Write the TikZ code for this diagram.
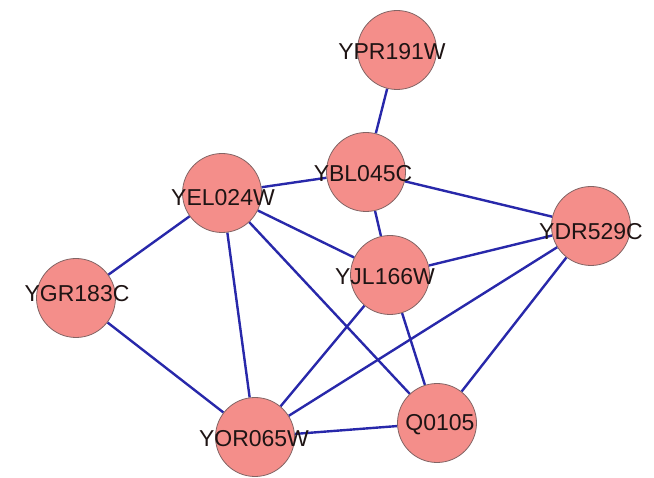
\documentclass[tikz,border=0pt]{standalone}
\usepackage{fontspec}
\setmainfont{Liberation Sans}
\usetikzlibrary{backgrounds}
\definecolor{nodefill}{RGB}{244,142,138}
\definecolor{nodeborder}{RGB}{130,100,100}
\definecolor{edgeblue}{RGB}{40,40,170}
\definecolor{txt}{RGB}{30,20,20}
\tikzset{
  vert/.style={circle, fill=nodefill, draw=nodeborder, line width=0.8pt, minimum size=79pt, inner sep=0pt},
  lbl/.style={text=txt, font=\fontsize{23}{27}\selectfont, inner sep=0pt},
  edge/.style={draw=edgeblue, line width=2.4pt}
}
\begin{document}
\begin{tikzpicture}[x=1pt,y=-1pt]
\useasboundingbox (0,0) rectangle (654,478);
\node[vert] (ypr) at (397,50) {};
\node[lbl] at (392,52) {YPR191W};
\node[vert] (ybl) at (366,172) {};
\node[lbl] at (363,174) {YBL045C};
\node[vert] (yel) at (222,193) {};
\node[lbl] at (223,198) {YEL024W};
\node[vert] (ydr) at (591,226) {};
\node[lbl] at (591,232) {YDR529C};
\node[vert] (yjl) at (390,275) {};
\node[lbl] at (385,277) {YJL166W};
\node[vert] (ygr) at (76,298) {};
\node[lbl] at (77,294) {YGR183C};
\node[vert] (yor) at (255,437) {};
\node[lbl] at (254,439) {YOR065W};
\node[vert] (q) at (437,423) {};
\node[lbl] at (440,425) {Q0105};
\begin{scope}[on background layer]
\draw[edge] (ypr) -- (ybl);
\draw[edge] (yel) -- (ybl);
\draw[edge] (ybl) -- (ydr);
\draw[edge] (ybl) -- (yjl);
\draw[edge] (yel) -- (ygr);
\draw[edge] (yel) -- (yjl);
\draw[edge] (yel) -- (yor);
\draw[edge] (yel) -- (q);
\draw[edge] (yjl) -- (ydr);
\draw[edge] (ydr) -- (yor);
\draw[edge] (ydr) -- (q);
\draw[edge] (yjl) -- (yor);
\draw[edge] (yjl) -- (q);
\draw[edge] (ygr) -- (yor);
\draw[edge] (yor) -- (q);
\end{scope}
\end{tikzpicture}
\end{document}
